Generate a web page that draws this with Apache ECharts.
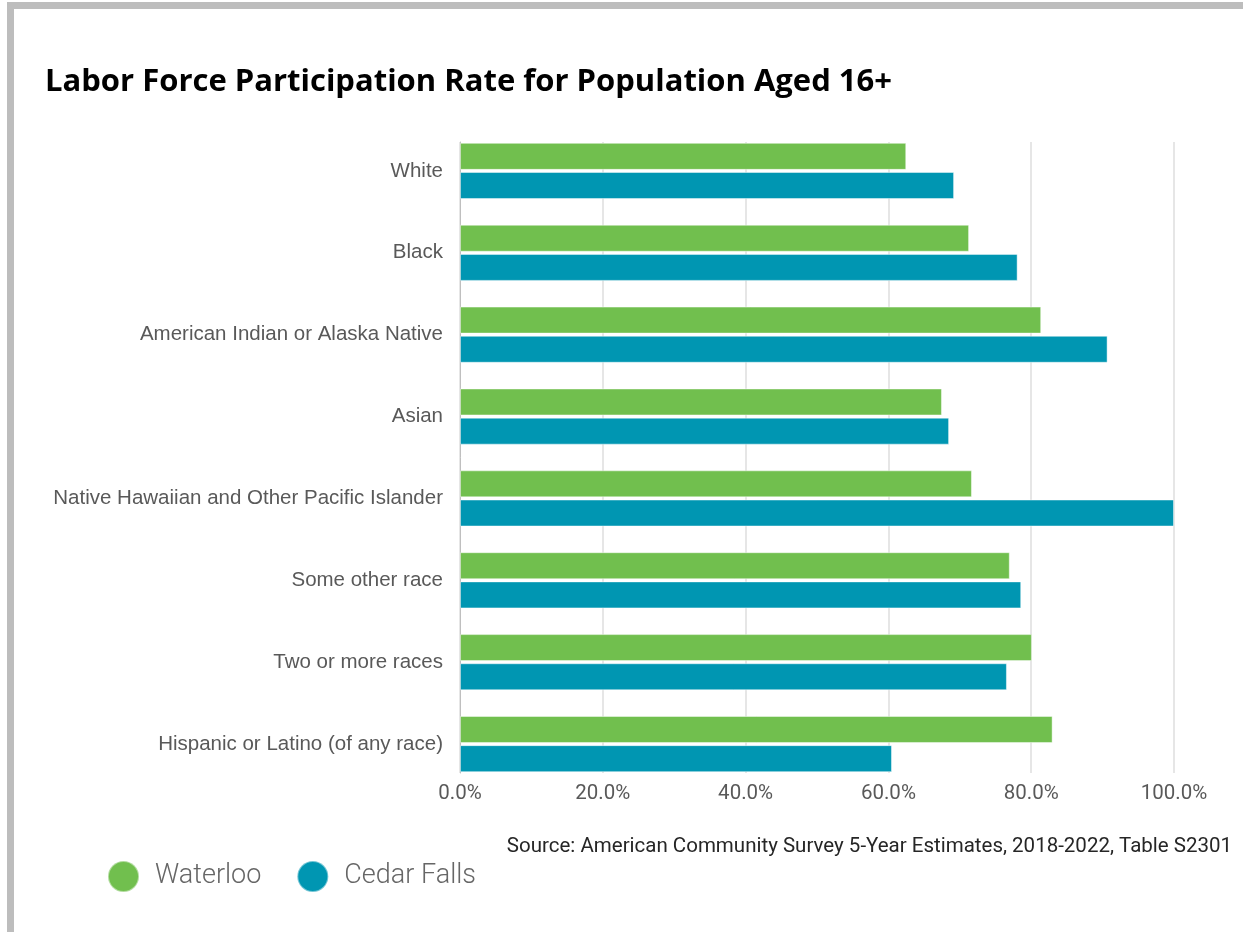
<!DOCTYPE html>
<html>
<head>
<meta charset="utf-8">
<script src="https://cdn.jsdelivr.net/npm/echarts@6/dist/echarts.min.js"></script>
<style>
  html, body { margin: 0; padding: 0; background: #fff; }
  #chart { width: 1243px; height: 932px; }
</style>
</head>
<body>
<div id="chart"></div>
<script>
// Race / ethnicity groups, top to bottom
const categories = [
  'White',
  'Black',
  'American Indian or Alaska Native',
  'Asian',
  'Native Hawaiian and Other Pacific Islander',
  'Some other race',
  'Two or more races',
  'Hispanic or Latino (of any race)'
];
const seriesNames = ['Waterloo', 'Cedar Falls'];
// Labor force participation rate, percent
const waterloo   = [62.5, 71.3, 81.4, 67.5, 71.7, 77.0, 80.1, 83.0];
const cedarFalls = [69.2, 78.1, 90.7, 68.5, 100.0, 78.6, 76.6, 60.5];
// Value axis ticks, percent
const xTicks = [0, 20, 40, 60, 80, 100];
const sourceNote = 'Source: American Community Survey 5-Year Estimates, 2018-2022, Table S2301';
const chartTitle = 'Labor Force Participation Rate for Population Aged 16+';

const GREEN = '#71bf4e';
const TEAL = '#0096b2';
const LABEL_GRAY = '#595959';

const chart = echarts.init(document.getElementById('chart'), null, { renderer: 'canvas' });

const tickMin = xTicks[0];
const tickMax = xTicks[xTicks.length - 1];
const tickStep = xTicks[1] - xTicks[0];

chart.setOption({
  backgroundColor: '#ffffff',
  animation: false,
  title: {
    text: chartTitle,
    left: 40,
    top: 62,
    textStyle: {
      fontFamily: '"Open Sans", "DejaVu Sans", sans-serif',
      fontWeight: 'bold',
      fontSize: 31,
      color: '#000000'
    }
  },
  legend: {
    data: seriesNames,
    left: 102,
    top: 855,
    icon: 'circle',
    itemWidth: 31,
    itemHeight: 32,
    itemGap: 35,
    textStyle: {
      fontFamily: 'Roboto, "DejaVu Sans", sans-serif',
      fontWeight: 300,
      fontSize: 27,
      color: '#666666',
      padding: [0, 0, 0, 11]
    }
  },
  grid: [
    // bars
    { left: 460, right: 69, top: 130, bottom: 147 },
    // gridlines, value axis labels and the left axis line
    { left: 460, right: 69, top: 142, bottom: 159 }
  ],
  xAxis: [
    {
      gridIndex: 0, type: 'value', min: tickMin, max: tickMax, interval: tickStep,
      show: false
    },
    {
      gridIndex: 1, type: 'value', min: tickMin, max: tickMax, interval: tickStep,
      axisLine: { show: false },
      axisTick: { show: false },
      splitLine: { show: true, lineStyle: { color: '#dedede', width: 1.5 } },
      axisLabel: {
        margin: 10,
        color: LABEL_GRAY,
        fontFamily: 'Roboto, "DejaVu Sans", sans-serif',
        fontSize: 20.5,
        formatter: v => v.toFixed(1) + '%'
      }
    }
  ],
  yAxis: [
    {
      gridIndex: 0, type: 'category', inverse: true, data: categories,
      axisLine: { show: false },
      axisTick: { show: false },
      axisLabel: {
        margin: 17,
        color: LABEL_GRAY,
        fontFamily: '"Liberation Sans", Arial, sans-serif',
        fontSize: 20.5
      }
    },
    {
      gridIndex: 1, type: 'value', min: 0, max: 1,
      axisLine: { show: true, lineStyle: { color: '#bfbfbf', width: 1 } },
      axisTick: { show: false },
      axisLabel: { show: false },
      splitLine: { show: false }
    }
  ],
  series: [
    {
      name: seriesNames[0], type: 'bar', xAxisIndex: 0, yAxisIndex: 0,
      data: waterloo, barWidth: 27, barGap: '8%',
      itemStyle: { color: GREEN, borderColor: 'rgba(255,255,255,0.45)', borderWidth: 1 }
    },
    {
      name: seriesNames[1], type: 'bar', xAxisIndex: 0, yAxisIndex: 0,
      data: cedarFalls, barWidth: 27, barGap: '8%',
      itemStyle: { color: TEAL, borderColor: 'rgba(255,255,255,0.45)', borderWidth: 1 }
    }
  ],
  graphic: [
    // frame edges along the left and top
    { type: 'rect', shape: { x: 7, y: 2, width: 7, height: 930 }, style: { fill: '#bdbdbd' }, silent: true },
    { type: 'rect', shape: { x: 7, y: 2, width: 1236, height: 7, r: [3, 0, 0, 0] }, style: { fill: '#bdbdbd' }, silent: true },
    {
      type: 'text', right: 11, top: 836, silent: true,
      style: {
        text: sourceNote,
        fontFamily: 'Roboto, "DejaVu Sans", sans-serif',
        fontSize: 20.5,
        fill: '#262626'
      }
    }
  ]
});
</script>
</body>
</html>
